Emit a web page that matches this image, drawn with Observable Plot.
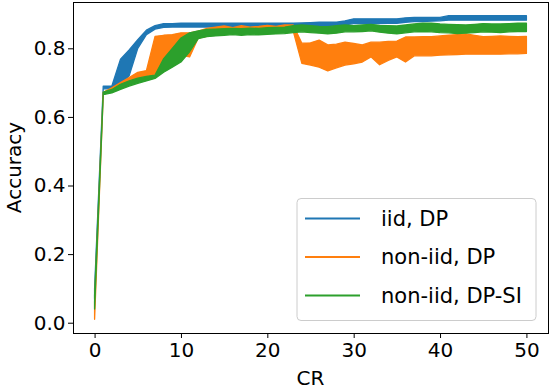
<!DOCTYPE html>
<html>
<head>
<meta charset="utf-8">
<script src="https://cdn.jsdelivr.net/npm/d3@7"></script>
<script src="https://cdn.jsdelivr.net/npm/@observablehq/plot@0.6"></script>
<style>
  html, body { margin: 0; padding: 0; background: #fff; }
  #chart { width: 550px; height: 390px; }
</style>
</head>
<body>
<div id="chart"></div>
<script>
const cr = d3.range(0, 51);

const seriesNames = ["iid, DP", "non-iid, DP", "non-iid, DP-SI"];
const seriesColors = ["#1f77b4", "#ff7f0e", "#2ca02c"];

const blueLo = [
  0.07, 0.682, 0.682, 0.695, 0.720, 0.800, 0.840, 0.856, 0.861, 0.862,
  0.862, 0.862, 0.862, 0.862, 0.862, 0.862, 0.862, 0.862, 0.862, 0.862,
  0.862, 0.862, 0.862, 0.862, 0.863, 0.864, 0.865, 0.865, 0.865, 0.868,
  0.872, 0.872, 0.872, 0.872, 0.873, 0.873, 0.876, 0.878, 0.878, 0.879,
  0.880, 0.882, 0.882, 0.882, 0.882, 0.882, 0.882, 0.882, 0.882, 0.882,
  0.882
];
const blueHi = [
  0.10, 0.690, 0.690, 0.768, 0.795, 0.825, 0.853, 0.866, 0.872, 0.872,
  0.873, 0.873, 0.873, 0.873, 0.873, 0.873, 0.873, 0.873, 0.873, 0.873,
  0.873, 0.873, 0.873, 0.873, 0.874, 0.875, 0.876, 0.876, 0.876, 0.880,
  0.886, 0.886, 0.886, 0.886, 0.886, 0.886, 0.889, 0.890, 0.890, 0.890,
  0.890, 0.895, 0.895, 0.895, 0.895, 0.895, 0.895, 0.895, 0.895, 0.895,
  0.895
];
const orangeLo = [
  0.01, 0.665, 0.675, 0.685, 0.695, 0.705, 0.712, 0.725, 0.740, 0.760,
  0.780, 0.775, 0.830, 0.835, 0.840, 0.842, 0.845, 0.843, 0.845, 0.842,
  0.846, 0.845, 0.848, 0.850, 0.756, 0.751, 0.745, 0.734, 0.743, 0.751,
  0.755, 0.760, 0.775, 0.752, 0.765, 0.775, 0.760, 0.778, 0.778, 0.778,
  0.780, 0.781, 0.782, 0.783, 0.783, 0.783, 0.783, 0.783, 0.784, 0.784,
  0.785
];
const orangeHi = [
  0.06, 0.672, 0.685, 0.700, 0.715, 0.730, 0.735, 0.835, 0.838, 0.840,
  0.845, 0.845, 0.850, 0.858, 0.862, 0.865, 0.860, 0.866, 0.862, 0.864,
  0.867, 0.864, 0.868, 0.868, 0.815, 0.816, 0.824, 0.810, 0.812, 0.818,
  0.814, 0.810, 0.818, 0.818, 0.820, 0.821, 0.833, 0.833, 0.834, 0.834,
  0.836, 0.838, 0.840, 0.842, 0.838, 0.834, 0.835, 0.836, 0.835, 0.834,
  0.835
];
const greenLo = [
  0.04, 0.665, 0.670, 0.680, 0.690, 0.698, 0.705, 0.712, 0.730, 0.745,
  0.760, 0.790, 0.828, 0.834, 0.836, 0.838, 0.840, 0.838, 0.840, 0.839,
  0.841, 0.842, 0.843, 0.846, 0.848, 0.846, 0.844, 0.842, 0.844, 0.848,
  0.848, 0.849, 0.851, 0.847, 0.844, 0.842, 0.845, 0.848, 0.849, 0.848,
  0.846, 0.845, 0.843, 0.844, 0.846, 0.848, 0.847, 0.846, 0.848, 0.849,
  0.849
];
const greenHi = [
  0.08, 0.672, 0.680, 0.695, 0.705, 0.713, 0.718, 0.722, 0.770, 0.800,
  0.830, 0.845, 0.851, 0.855, 0.856, 0.857, 0.858, 0.857, 0.859, 0.858,
  0.860, 0.861, 0.862, 0.866, 0.868, 0.866, 0.864, 0.863, 0.866, 0.868,
  0.866, 0.868, 0.870, 0.867, 0.866, 0.865, 0.868, 0.871, 0.873, 0.873,
  0.871, 0.870, 0.869, 0.868, 0.870, 0.872, 0.871, 0.871, 0.872, 0.873,
  0.873
];

const xTicks = [0, 10, 20, 30, 40, 50];
const yTicks = [0.0, 0.2, 0.4, 0.6, 0.8];
const xLabel = "CR";
const yLabel = "Accuracy";

const los = [blueLo, orangeLo, greenLo];
const his = [blueHi, orangeHi, greenHi];
const rows = [];
seriesNames.forEach((name, s) => {
  cr.forEach((c, i) => rows.push({series: name, cr: c, lo: los[s][i], hi: his[s][i]}));
});

const FONT = "DejaVu Sans";
const FS = 20;
const LFS = 21;

const chart = Plot.plot({
  width: 550,
  height: 390,
  marginLeft: 73,
  marginRight: 2,
  marginTop: 2,
  marginBottom: 57,
  style: {fontFamily: FONT, fontSize: FS + "px", color: "#000", background: "#fff"},
  x: {domain: [-2.5, 52.5]},
  y: {domain: [-0.030, 0.935]},
  marks: [
    ...seriesNames.map((name, s) => Plot.areaY(rows.filter(d => d.series === name), {
      x: "cr", y1: "lo", y2: "hi",
      fill: seriesColors[s], stroke: seriesColors[s], strokeWidth: 1.3, strokeLinejoin: "round"
    })),
    Plot.axisX({ticks: xTicks, tickSize: 5, tickPadding: 4, label: null, tickFormat: d3.format("d"), fontSize: FS}),
    Plot.axisY({ticks: yTicks, tickSize: 5, tickPadding: 3, label: null, tickFormat: d3.format(".1f"), fontSize: FS}),
    Plot.frame({stroke: "#000", strokeWidth: 1})
  ]
});

document.getElementById("chart").appendChild(chart);

const svg = d3.select(chart);
svg.append("text")
  .attr("x", (73 + 548) / 2).attr("y", 385)
  .attr("text-anchor", "middle")
  .style("font-family", FONT).style("font-size", FS + "px").attr("fill", "#000")
  .text(xLabel);
svg.append("text")
  .attr("transform", "translate(14,167.5) rotate(-90)")
  .attr("text-anchor", "middle").attr("dominant-baseline", "central")
  .style("font-family", FONT).style("font-size", FS + "px").attr("fill", "#000")
  .text(yLabel);

const lg = svg.append("g");
lg.append("rect")
  .attr("x", 297).attr("y", 198.5).attr("width", 239).attr("height", 122)
  .attr("rx", 4).attr("fill", "#fff").attr("fill-opacity", 0.8)
  .attr("stroke", "#ccc").attr("stroke-width", 1);
seriesNames.forEach((name, s) => {
  const yy = 218.5 + s * 38.5;
  lg.append("line").attr("x1", 305).attr("x2", 360).attr("y1", yy).attr("y2", yy)
    .attr("stroke", seriesColors[s]).attr("stroke-width", 2);
  lg.append("text").attr("x", 381).attr("y", yy)
    .attr("text-anchor", "start").attr("dominant-baseline", "central")
    .style("font-family", FONT).style("font-size", LFS + "px").attr("fill", "#000")
    .text(name);
});
</script>
</body>
</html>
